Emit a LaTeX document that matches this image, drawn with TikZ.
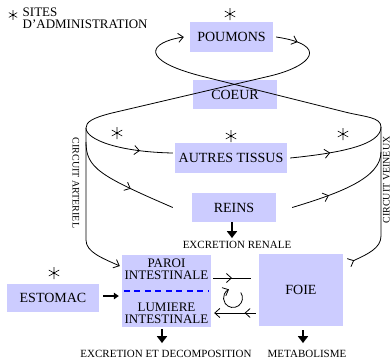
\documentclass[tikz,border=0pt]{standalone}
\usepackage{fontspec}
\setmainfont{Liberation Serif}
\usetikzlibrary{arrows.meta,decorations.markings}
\definecolor{organfill}{RGB}{204,204,255}

\begin{document}
\begin{tikzpicture}[x=1pt,y=-1pt,
    organ/.style={fill=organfill, inner sep=0pt, font=\fontsize{14}{16}\selectfont},
    note/.style={inner sep=0pt, font=\fontsize{11}{12}\selectfont},
    circuit/.style={inner sep=0pt, font=\fontsize{10}{12}\selectfont},
    vessel/.style={line width=0.8pt},
    barb/.style={-{Straight Barb[length=5pt,width=9pt]}},
    flowtip/.style={postaction={decorate,decoration={markings,mark=at position #1 with {\arrow{Straight Barb[length=5pt,width=9pt]}}}}},
    drop/.style={line width=2.6pt,-{Triangle[length=7pt,width=10pt]}},
    push/.style={line width=1.8pt,-{Triangle[length=5pt,width=6.5pt]}},
    site/.pic={\draw[line width=0.6pt] (0,-6) -- (0,6) (-5.2,-3) -- (5.2,3) (-5.2,3) -- (5.2,-3);}]
    \useasboundingbox (0,0) rectangle (392,360);

    \node[organ, minimum width=83pt, minimum height=30pt] (poumons) at (231.5,37) {POUMONS};
    \node[organ, minimum width=84pt, minimum height=29pt] (coeur) at (235,94.5) {COEUR};
    \node[organ, minimum width=112pt, minimum height=30pt] (autres) at (231,158) {AUTRES TISSUS};
    \node[organ, minimum width=84pt, minimum height=29pt] (reins) at (234,207.5) {REINS};
    \node[organ, minimum width=89pt, minimum height=72pt] (intestin) at (166.5,291) {};
    \node[organ, minimum width=92pt, minimum height=28pt] (estomac) at (53,298) {ESTOMAC};
    \node[organ, minimum width=84pt, minimum height=72pt] (foie) at (301,290) {FOIE};

    \node[align=center, inner sep=0pt, font=\fontsize{13}{12}\selectfont] (paroi) at (166.5,269) {PAROI\\INTESTINALE};
    \node[align=center, inner sep=0pt, font=\fontsize{13}{12}\selectfont] (lumiere) at (166.5,313.5) {LUMIERE\\INTESTINALE};
    \draw[blue, line width=2pt, dash pattern=on 6pt off 4.5pt] ([xshift=2pt]intestin.west) -- ([xshift=-3pt]intestin.east);

    \pic[scale=0.8] (astlegend) at (13,15) {site};
    \node[anchor=north west, align=left, inner sep=0pt, font=\fontsize{13}{11.5}\selectfont] (legend) at (22.5,8) {SITES\\D'ADMINISTRATION};
    \pic (astpoumons) at (230,14) {site};
    \pic (astart) at (117,133) {site};
    \pic (astautres) at (231,136) {site};
    \pic (astven) at (343,134) {site};
    \pic (astestomac) at (54,273) {site};

    \node[circuit, rotate=-90] (arteriel) at (76,183) {CIRCUIT ARTERIEL};
    \node[circuit, rotate=90] (veineux) at (386.5,180) {CIRCUIT VEINEUX};

    \node[note] (renale) at (237,245) {EXCRETION RENALE};
    \node[note] (decomp) at (166,354) {EXCRETION ET DECOMPOSITION};
    \node[note] (metab) at (307,354) {METABOLISME};

    \coordinate (arttop) at (86,128);
    \coordinate (artrein) at (86,142);
    \coordinate (artbot) at (86,240);
    \coordinate (ventop) at (381,127);
    \coordinate (venrein) at (381,152);
    \coordinate (venbot) at (381,236);
    \coordinate (recirc) at (233,298);

    \draw[vessel, barb] (ventop) .. controls (381,117) and (365,117) .. (345,112) -- (205,77) .. controls (136,60) and (150,42) .. ([xshift=-6pt]poumons.west);
    \draw[vessel, barb, flowtip=22pt] ([xshift=3pt]poumons.east) .. controls (330,45) and (312,66) .. (270,76) -- (112,113) .. controls (92,118) and (86,122) .. (arttop) -- (artbot) .. controls (86,252) and (102,258) .. ([shift={(-2pt,25pt)}]intestin.west);
    \draw[vessel, flowtip=0.65] (arttop) .. controls (86,140) and (120,152) .. ([shift={(-2pt,5pt)}]autres.west);
    \draw[vessel, flowtip=0.6] (artrein) .. controls (86,168) and (100,176) .. ([xshift=-19pt]reins.west);
    \draw[vessel, flowtip=0.4] ([xshift=3pt]autres.east) .. controls (340,153) and (381,145) .. (ventop);
    \draw[vessel, flowtip=0.35] ([xshift=16pt]reins.east) .. controls (340,193) and (381,178) .. (venrein);
    \draw[vessel, flowtip=1pt] ([shift={(10pt,-7pt)}]foie.north east) .. controls (368,254) and (381,248) .. (venbot) -- (ventop);

    \draw[vessel, flowtip=0.5] ([shift={(2pt,13pt)}]intestin.east) -- ([shift={(-8pt,12pt)}]foie.west);
    \draw[vessel, barb, flowtip=0.27] ([shift={(-3pt,-23pt)}]foie.west) -- ([shift={(3pt,-22pt)}]intestin.east);
    \draw[vessel, barb] ([shift={(-35:9.5)}]recirc) arc[start angle=-35, end angle=245, radius=9.5];

    \draw[drop] ([xshift=-2pt]reins.south) -- ([xshift=-5pt,yshift=3pt]renale.north);
    \draw[drop] ([xshift=-4.5pt,yshift=-2pt]intestin.south) -- ([xshift=-4pt,yshift=7pt]decomp.north);
    \draw[drop] ([xshift=2pt,yshift=-4pt]foie.south) -- ([xshift=-4pt,yshift=7pt]metab.north);
    \draw[push] ([xshift=4pt,yshift=2pt]estomac.east) -- ([xshift=-3pt,yshift=-5pt]intestin.west);
\end{tikzpicture}
\end{document}
